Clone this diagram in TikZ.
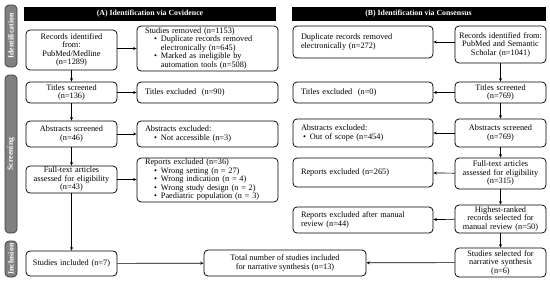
\documentclass[tikz,border=0pt]{standalone}
\usepackage{fontspec}
\setmainfont{Liberation Serif}
\usetikzlibrary{arrows.meta}
\definecolor{barfill}{HTML}{808080}
\definecolor{barline}{HTML}{3A3A3A}
\newcommand{\fsz}{\fontsize{8.3}{8.5}\selectfont}
\newcommand{\bitem}[2][9pt]{\hspace*{#1}\textbullet\hspace{4pt}#2}
\newcommand{\bcont}{\hspace*{15.9pt}}

\begin{document}
\begin{tikzpicture}[x=1pt, y=-1pt,
  box/.style={draw, rounded corners=4pt, line width=0.75pt, inner ysep=1pt, font=\fsz},
  narrow/.style={box, text width=85pt, inner xsep=3pt, align=center},
  wideA/.style={box, text width=125pt, inner xsep=8pt, align=left},
  wideB/.style={box, text width=124pt, inner xsep=8pt, align=left},
  header/.style={fill=black, text=white, inner sep=0pt, font=\fontsize{7.8}{8.5}\selectfont\bfseries},
  sidebar/.style={draw=barline, fill=barfill, line width=0.7pt, rounded corners=4pt, minimum width=12pt, inner sep=0pt},
  sidelbl/.style={rotate=90, text=white, inner sep=0pt, font=\fontsize{7.8}{8.5}\selectfont\bfseries},
  arr/.style={-{Stealth[length=3.5pt, width=3pt]}, line width=0.7pt}
]
  \useasboundingbox (0,0) rectangle (550,281);

  \node[sidebar, minimum height=62pt] (ident) at (11,36) {};
  \node[sidelbl] (identlbl) at (ident) {Identification};
  \node[sidebar, minimum height=158pt] (screen) at (11,154) {};
  \node[sidelbl] (screenlbl) at (screen) {Screening};
  \node[sidebar, minimum height=36pt] (incl) at (11,259) {};
  \node[sidelbl] (incllbl) at (incl) {Inclusion};

  \node[header, minimum width=252pt, minimum height=14pt] (headA) at (150,13.8) {(A) Identification via Covidence};
  \node[header, minimum width=254pt, minimum height=14pt] (headB) at (418.5,13.8) {(B) Identification via Consensus};

  \node[narrow, minimum height=40pt] (recA) at (71.5,50) {Records identified\\from:\\PubMed/Medline\\(n=1289)};
  \node[wideA, minimum height=45pt] (removedA) at (207.5,48.5) {Studies removed (n=1153)\\
    \bitem{Duplicate records removed}\\ \bcont electronically (n=645)\\
    \bitem{Marked as ineligible by}\\ \bcont automation tools (n=508)};
  \node[narrow, minimum height=21pt] (titlesA) at (71.5,92.5) {Titles screened\\(n=136)};
  \node[wideA, minimum height=21pt] (titlesexA) at (207.5,92.5) {Titles excluded \ (n=90)};
  \node[narrow, minimum height=26pt] (absA) at (71.5,134) {Abstracts screened\\(n=46)};
  \node[wideA, minimum height=26pt] (absexA) at (207.5,134) {Abstracts excluded:\\ \bitem{Not accessible (n=3)}};
  \node[narrow, minimum height=27pt] (fullA) at (71.5,179.5) {Full-text articles\\assessed for eligibility\\(n=43)};
  \node[wideA, minimum height=44pt] (reportsA) at (207.5,180) {Reports excluded (n=36)\\
    \bitem{Wrong setting (n = 27)}\\ \bitem{Wrong indication (n = 4)}\\
    \bitem{Wrong study design (n = 2)}\\ \bitem{Paediatric population (n = 3)}};
  \node[narrow, minimum height=25pt] (inclA) at (71.5,263.5) {Studies included (n=7)};
  \node[box, minimum width=162pt, minimum height=26pt, align=center] (total) at (285,263) {Total number of studies included\\for narrative synthesis (n=13)};

  \node[narrow, minimum height=37pt] (recB) at (500.5,44.5) {Records identified from:\\PubMed and Semantic\\Scholar (n=1041)};
  \node[wideB, minimum height=32pt] (dupB) at (363,42) {Duplicate records removed\\electronically (n=272)};
  \node[narrow, minimum height=21pt] (titlesB) at (500.5,92.5) {Titles screened\\(n=769)};
  \node[wideB, minimum height=21pt] (titlesexB) at (363,92.5) {Titles excluded \ (n=0)};
  \node[narrow, minimum height=28pt] (absB) at (500.5,133) {Abstracts screened\\(n=769)};
  \node[wideB, minimum height=28pt] (absexB) at (363,133) {Abstracts excluded:\\ \bitem[2pt]{Out of scope (n=454)}};
  \node[narrow, minimum height=31pt] (fullB) at (500.5,173.5) {Full-text articles\\assessed for eligibility\\(n=315)};
  \node[wideB, minimum height=29pt] (reportsB) at (363,172.5) {Reports excluded (n=265)};
  \node[narrow, minimum height=28pt] (rankedB) at (500.5,219) {Highest-ranked\\records selected for\\manual review (n=50)};
  \node[wideB, minimum height=26pt] (manexB) at (363,220) {Reports excluded after manual\\review (n=44)};
  \node[narrow, minimum height=29pt] (selB) at (500.5,262.5) {Studies selected for\\narrative synthesis\\(n=6)};

  \draw[arr] (removedA.west -| recA.east) -- (removedA.west);
  \draw[arr] (recA) -- (titlesA);
  \draw[arr] (titlesA) -- (titlesexA);
  \draw[arr] (titlesA) -- (absA);
  \draw[arr] (absA) -- (absexA);
  \draw[arr] (absA) -- (fullA);
  \draw[arr] (fullA) -- (reportsA.west |- fullA.east);
  \draw[arr] (fullA) -- (inclA);
  \draw[arr] (inclA) -- (total);

  \draw[arr] (dupB.east -| recB.west) -- (dupB.east);
  \draw[arr] (recB) -- (titlesB);
  \draw[arr] (titlesB) -- (titlesexB);
  \draw[arr] (titlesB) -- (absB);
  \draw[arr] (absB) -- (absexB);
  \draw[arr] (absB) -- (fullB);
  \draw[arr] (fullB) -- (reportsB);
  \draw[arr] (fullB) -- (rankedB);
  \draw[arr] (rankedB) -- (manexB);
  \draw[arr] (rankedB) -- (selB);
  \draw[arr] (selB) -- (total);
\end{tikzpicture}
\end{document}
